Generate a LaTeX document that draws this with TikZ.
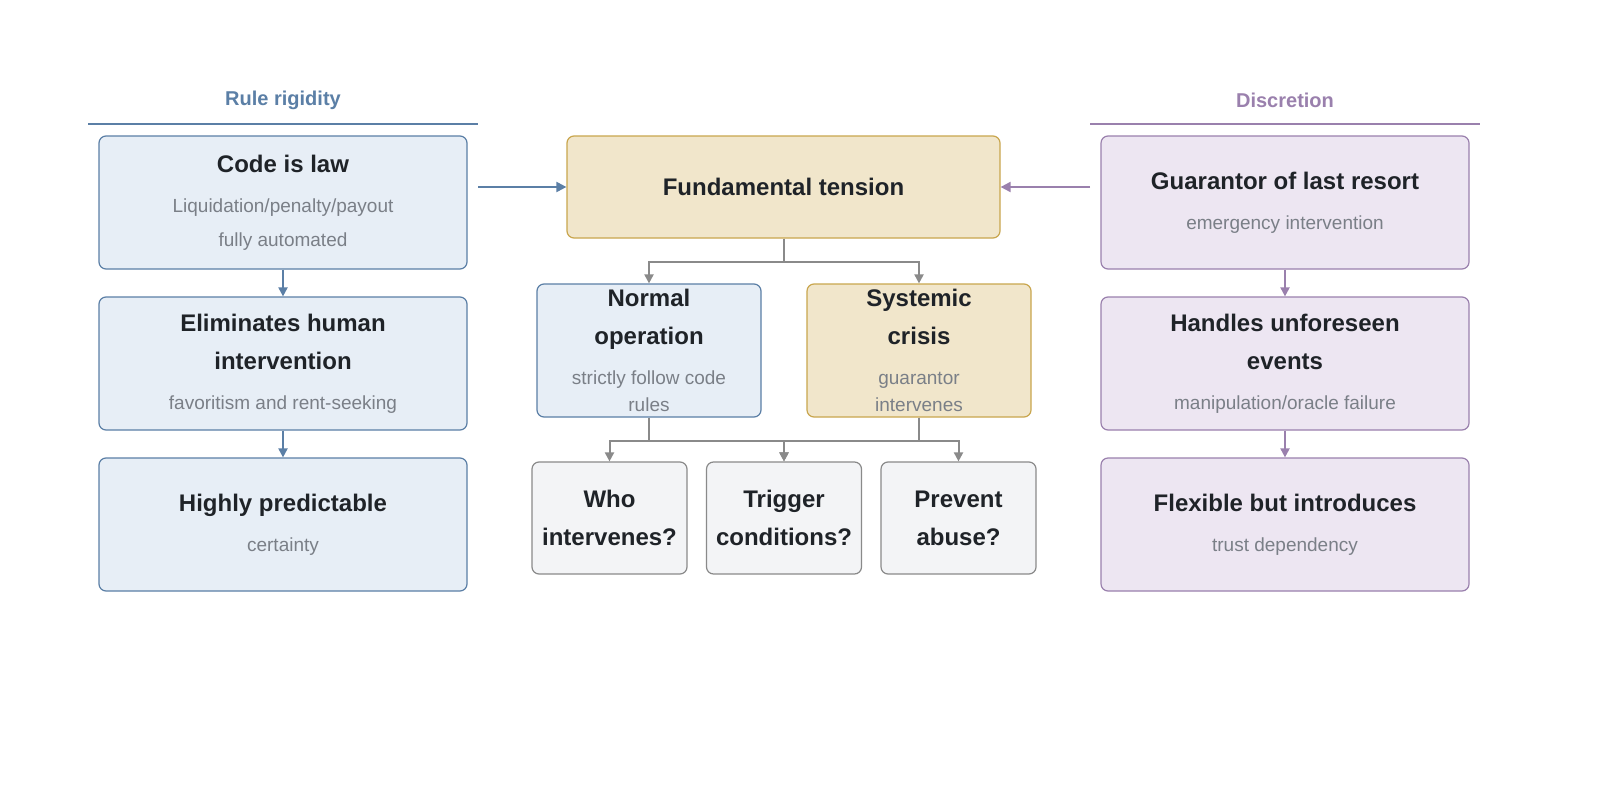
\documentclass[tikz,border=0pt]{standalone}
\usepackage{fontspec}
\setmainfont{Liberation Sans}
\usetikzlibrary{arrows.meta}
\definecolor{bS}{HTML}{5B7FA6}\definecolor{bF}{HTML}{E7EEF6}
\definecolor{pS}{HTML}{9A80AD}\definecolor{pF}{HTML}{EDE6F2}
\definecolor{gS}{HTML}{C9A64E}\definecolor{gF}{HTML}{F1E6CB}
\definecolor{nS}{HTML}{8A8A8A}\definecolor{nF}{HTML}{F3F4F6}
\definecolor{tx}{HTML}{1F2328}\definecolor{st}{HTML}{7A7F87}
\newcommand{\ttl}[1]{{\fontsize{24}{34}\selectfont\bfseries\color{tx}#1}}
\newcommand{\sbt}[1]{{\fontsize{19}{34}\selectfont\color{st}#1}}
\begin{document}
\begin{tikzpicture}[x=1pt,y=-1pt,
 box/.style={rounded corners=7pt,line width=1.2pt,align=center,inner sep=0pt,font=\fontsize{19}{34}\selectfont},
 blue/.style={box,draw=bS,fill=bF,minimum width=368pt,minimum height=133pt},
 purp/.style={box,draw=pS,fill=pF,minimum width=368pt,minimum height=133pt},
 gold/.style={box,draw=gS,fill=gF},
 gray/.style={box,draw=nS,fill=nF,minimum width=155pt,minimum height=112pt},
 con/.style={line width=2pt,draw=nS,-{Triangle[length=9pt,width=9pt]}},
 hdr/.style={font=\fontsize{20}{24}\selectfont\bfseries}]
\useasboundingbox (0,0) rectangle (1600,800);
\fill[white] (0,0) rectangle (1600,800);
% headers
\node[hdr,text=bS] (hl) at (283,100) {Rule rigidity};
\coordinate (hl1) at (88,124); \coordinate (hl2) at (478,124);
\draw[bS,line width=2pt] (hl1) -- (hl2);
\node[hdr,text=pS] (hr) at (1285,100) {Discretion};
\coordinate (hr1) at (1090,124); \coordinate (hr2) at (1480,124);
\draw[pS,line width=2pt] (hr1) -- (hr2);
% left
\node[blue] (l1) at (283,202.5) {\ttl{Code is law}\\[6pt]\sbt{Liquidation/penalty/payout}\\\sbt{fully automated}};
\node[blue] (l2) at (283,363.5) {\ttl{Eliminates human}\\[4pt]\ttl{intervention}\\[6pt]\sbt{favoritism and rent-seeking}};
\node[blue] (l3) at (283,524.5) {\ttl{Highly predictable}\\[6pt]\sbt{certainty}};
% right
\node[purp] (r1) at (1285,202.5) {\ttl{Guarantor of last resort}\\[6pt]\sbt{emergency intervention}};
\node[purp] (r2) at (1285,363.5) {\ttl{Handles unforeseen}\\[4pt]\ttl{events}\\[6pt]\sbt{manipulation/oracle failure}};
\node[purp] (r3) at (1285,524.5) {\ttl{Flexible but introduces}\\[6pt]\sbt{trust dependency}};
% center
\node[gold,minimum width=433pt,minimum height=102pt] (f) at (783.5,187) {\ttl{Fundamental tension}};
\node[box,draw=bS,fill=bF,minimum width=224pt,minimum height=133pt] (n) at (649,350.5) {\ttl{Normal}\\[4pt]\ttl{operation}\\[6pt]\sbt{strictly follow code}\\[-7pt]\sbt{rules}};
\node[gold,minimum width=224pt,minimum height=133pt] (s) at (919,350.5) {\ttl{Systemic}\\[4pt]\ttl{crisis}\\[6pt]\sbt{guarantor}\\[-7pt]\sbt{intervenes}};
\node[gray] (q1) at (609.5,518) {\ttl{Who}\\[4pt]\ttl{intervenes?}};
\node[gray] (q2) at (784,518) {\ttl{Trigger}\\[4pt]\ttl{conditions?}};
\node[gray] (q3) at (958.5,518) {\ttl{Prevent}\\[4pt]\ttl{abuse?}};
% connectors
\draw[line width=2pt,bS,-{Triangle[length=10pt,width=10pt]}] (hl2|-f) -- (f);
\draw[line width=2pt,pS,-{Triangle[length=10pt,width=10pt]}] (hr1|-f) -- (f);
\draw[line width=2pt,bS,-{Triangle[length=9pt,width=9pt]}] (l1) -- (l2);
\draw[line width=2pt,bS,-{Triangle[length=9pt,width=9pt]}] (l2) -- (l3);
\draw[line width=2pt,pS,-{Triangle[length=9pt,width=9pt]}] (r1) -- (r2);
\draw[line width=2pt,pS,-{Triangle[length=9pt,width=9pt]}] (r2) -- (r3);
\draw[con] (f.south) -- ++(0,23) -| (n.north);
\draw[con] (f.south) -- ++(0,23) -| (s.north);
\draw[con] (n.south) -- ++(0,23) -| (q1.north);
\draw[con] (n.south) -- ++(0,23) -| (q2.north);
\draw[con] (s.south) -- ++(0,23) -| (q3.north);
\draw[con] (s.south) -- ++(0,23) -| (q2.north);
\end{tikzpicture}
\end{document}
